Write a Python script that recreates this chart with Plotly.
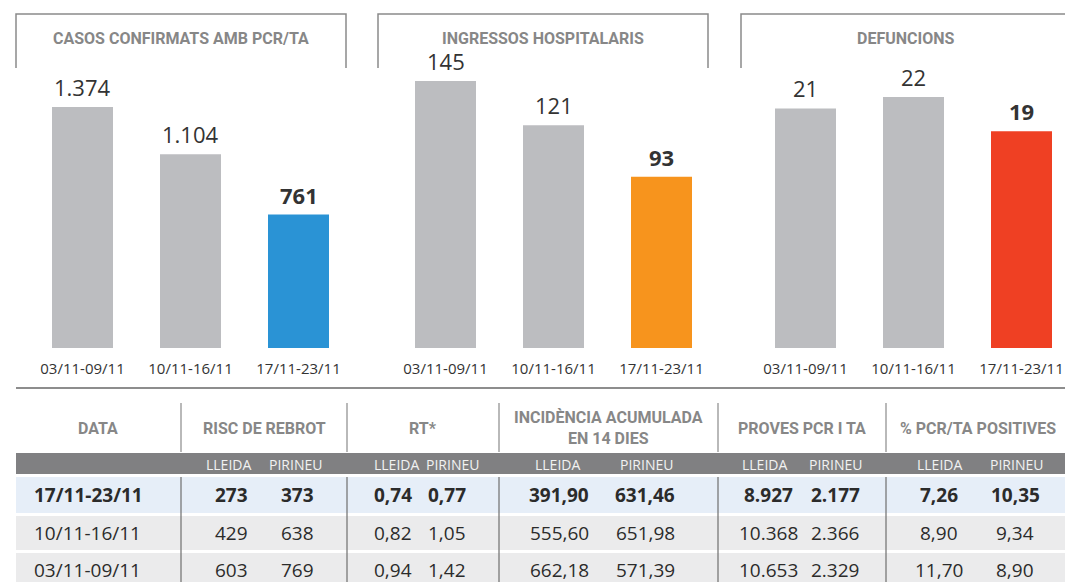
import plotly.graph_objects as go

W, H = 1065, 582

# ---------------- data ----------------
weeks = ["03/11-09/11", "10/11-16/11", "17/11-23/11"]
casos = [1374, 1104, 761]
ingressos = [145, 121, 93]
defuncions = [21, 22, 19]
panel_titles = ["CASOS CONFIRMATS AMB PCR/TA", "INGRESSOS HOSPITALARIS", "DEFUNCIONS"]
value_decimals = [0, 0, 0]

table_dates = ["17/11-23/11", "10/11-16/11", "03/11-09/11"]
risc_lleida = [273, 429, 603]
risc_pirineu = [373, 638, 769]
rt_lleida = [0.74, 0.82, 0.94]
rt_pirineu = [0.77, 1.05, 1.42]
ia_lleida = [391.90, 555.60, 662.18]
ia_pirineu = [631.46, 651.98, 571.39]
pcr_lleida = [8927, 10368, 10653]
pcr_pirineu = [2177, 2366, 2329]
pos_lleida = [7.26, 8.90, 11.70]
pos_pirineu = [10.35, 9.34, 8.90]
table_headers = ["DATA", "RISC DE REBROT", "RT*", "INCIDÈNCIA ACUMULADA<br>EN 14 DIES",
                 "PROVES PCR I TA", "% PCR/TA POSITIVES"]
sub_headers = ["LLEIDA", "PIRINEU"]

# ---------------- style ----------------
GREY_BAR = "#bcbdc0"
HIGHLIGHT = ["#2a93d5", "#f7941d", "#ef4023"]
LINE = "#8a8a8a"
HEAD_TXT = "#878787"
TXT = "#2b2b2b"
COND = "Roboto, Liberation Sans Narrow, sans-serif"
SANS = "Open Sans, Noto Sans, sans-serif"


def fmt(v, dec):
    s = f"{v:,.{dec}f}"
    return s.replace(",", "#").replace(".", ",").replace("#", ".")


def px(x):
    return x / W


def py(y):
    return 1 - y / H


fig = go.Figure()

panels = [casos, ingressos, defuncions]
x_doms = [(28.5, 352.5), (391.5, 715.5), (751.5, 1065)]
x_rngs = [(-0.5, 2.5), (-0.5, 2.5), (-0.5, 2.5 - 10.5 / 108)]
bar_top_px = [107, 81, 97]  # pixel top of the tallest bar in each panel
BASE_PX, TOP_PX = 348, 60

for i, vals in enumerate(panels):
    n = "" if i == 0 else str(i + 1)
    colors = [GREY_BAR] * (len(vals) - 1) + [HIGHLIGHT[i]]
    fig.add_trace(go.Bar(x=weeks, y=vals, marker_color=colors, marker_line_width=0,
                         xaxis="x" + n, yaxis="y" + n, hoverinfo="skip", showlegend=False))
    vmax = max(vals)
    ytop = vmax * (BASE_PX - TOP_PX) / (BASE_PX - bar_top_px[i])
    fig.layout["xaxis" + n] = dict(
        domain=[px(x_doms[i][0]), px(x_doms[i][1])], range=list(x_rngs[i]),
        type="category", showline=False, showgrid=False, zeroline=False, ticks="",
        tickfont=dict(family=SANS, size=15, color="#333333"), ticklabelstandoff=10,
        anchor="y" + n, fixedrange=True)
    fig.layout["yaxis" + n] = dict(
        domain=[py(BASE_PX), py(TOP_PX)], range=[0, ytop], visible=False,
        anchor="x" + n, fixedrange=True)
    for j, v in enumerate(vals):
        t = fmt(v, value_decimals[i])
        if j == len(vals) - 1:
            t = "<b>" + t + "</b>"
        fig.add_annotation(x=weeks[j], y=v, xref="x" + n, yref="y" + n, text=t,
                           showarrow=False, yanchor="bottom", yshift=3,
                           font=dict(family=SANS, size=22, color="#333333"))

shapes = []
annos = []

# panel title boxes
title_boxes = [(16, 346, True), (378, 708, True), (741, 1065, False)]
for (x0, x1, right), title in zip(title_boxes, panel_titles):
    path = f"M {px(x0)},{py(68)} L {px(x0)},{py(14)} L {px(x1)},{py(14)}"
    if right:
        path += f" L {px(x1)},{py(68)}"
    shapes.append(dict(type="path", path=path, xref="paper", yref="paper",
                       line=dict(color=LINE, width=1.5)))
    cx = (x0 + x1) / 2 if right else 905
    annos.append(dict(x=px(cx), y=py(39), xref="paper", yref="paper", text=f"<b>{title}</b>",
                      showarrow=False, xanchor="center", yanchor="middle",
                      font=dict(family=COND, size=16, color=HEAD_TXT)))

# separator line under the bars
shapes.append(dict(type="line", x0=px(16), x1=px(1065), y0=py(388), y1=py(388),
                   xref="paper", yref="paper", line=dict(color="#8d8d8d", width=2)))

# ---------------- table ----------------
col_edges = [181, 347, 499, 718, 886]
head_centers = [98, 264, 423, 608, 802, 978]
sub_centers = [(228, 295), (396, 452), (557, 646), (764, 835), (939, 1016)]
val_centers = [(231, 297), (393, 447), (559, 645), (768, 835), (939, 1015)]
row_y = [495, 533, 570]
row_bands = [(477, 513, "#e6eef8"), (516, 550, "#ebebec"), (553, 584, "#ebebec")]

for y0, y1, c in row_bands:
    shapes.append(dict(type="rect", x0=px(16), x1=px(1065), y0=py(y0), y1=py(y1),
                       xref="paper", yref="paper", fillcolor=c, line_width=0, layer="below"))
shapes.append(dict(type="rect", x0=px(16), x1=px(1065), y0=py(453), y1=py(474),
                   xref="paper", yref="paper", fillcolor="#808082", line_width=0))
for xe in col_edges:
    shapes.append(dict(type="line", x0=px(xe), x1=px(xe), y0=py(403), y1=py(452),
                       xref="paper", yref="paper", line=dict(color=LINE, width=1.2)))
    shapes.append(dict(type="line", x0=px(xe), x1=px(xe), y0=py(477), y1=py(584),
                       xref="paper", yref="paper", line=dict(color="#6e6e6e", width=1.2)))

for cx, h in zip(head_centers, table_headers):
    annos.append(dict(x=px(cx), y=py(428), xref="paper", yref="paper", text=f"<b>{h}</b>",
                      showarrow=False, xanchor="center", yanchor="middle",
                      font=dict(family=COND, size=16, color=HEAD_TXT)))
for (cl, cp) in sub_centers:
    for cx, s in ((cl, sub_headers[0]), (cp, sub_headers[1])):
        annos.append(dict(x=px(cx), y=py(464), xref="paper", yref="paper", text=s,
                          showarrow=False, xanchor="center", yanchor="middle",
                          font=dict(family=SANS, size=14, color="#f2f2f2")))

columns = [(risc_lleida, risc_pirineu, 0), (rt_lleida, rt_pirineu, 2),
           (ia_lleida, ia_pirineu, 2), (pcr_lleida, pcr_pirineu, 0),
           (pos_lleida, pos_pirineu, 2)]
for r in range(len(table_dates)):
    bold = r == 0
    wrap = (lambda s: f"<b>{s}</b>") if bold else (lambda s: s)
    annos.append(dict(x=px(32), y=py(row_y[r]), xref="paper", yref="paper",
                      text=wrap(table_dates[r]), showarrow=False, xanchor="left",
                      yanchor="middle", font=dict(family=SANS, size=19, color=TXT)))
    for (lv, pv, dec), (cl, cp) in zip(columns, val_centers):
        for cx, v in ((cl, lv[r]), (cp, pv[r])):
            annos.append(dict(x=px(cx), y=py(row_y[r]), xref="paper", yref="paper",
                              text=wrap(fmt(v, dec)), showarrow=False, xanchor="center",
                              yanchor="middle", font=dict(family=SANS, size=19, color=TXT)))

for a in annos:
    fig.add_annotation(**a)

fig.update_layout(width=W, height=H, margin=dict(l=0, r=0, t=0, b=0),
                  paper_bgcolor="white", plot_bgcolor="white", bargap=1 - 61 / 108,
                  shapes=shapes, showlegend=False)

fig.write_html("out.html", config={"displayModeBar": False})
